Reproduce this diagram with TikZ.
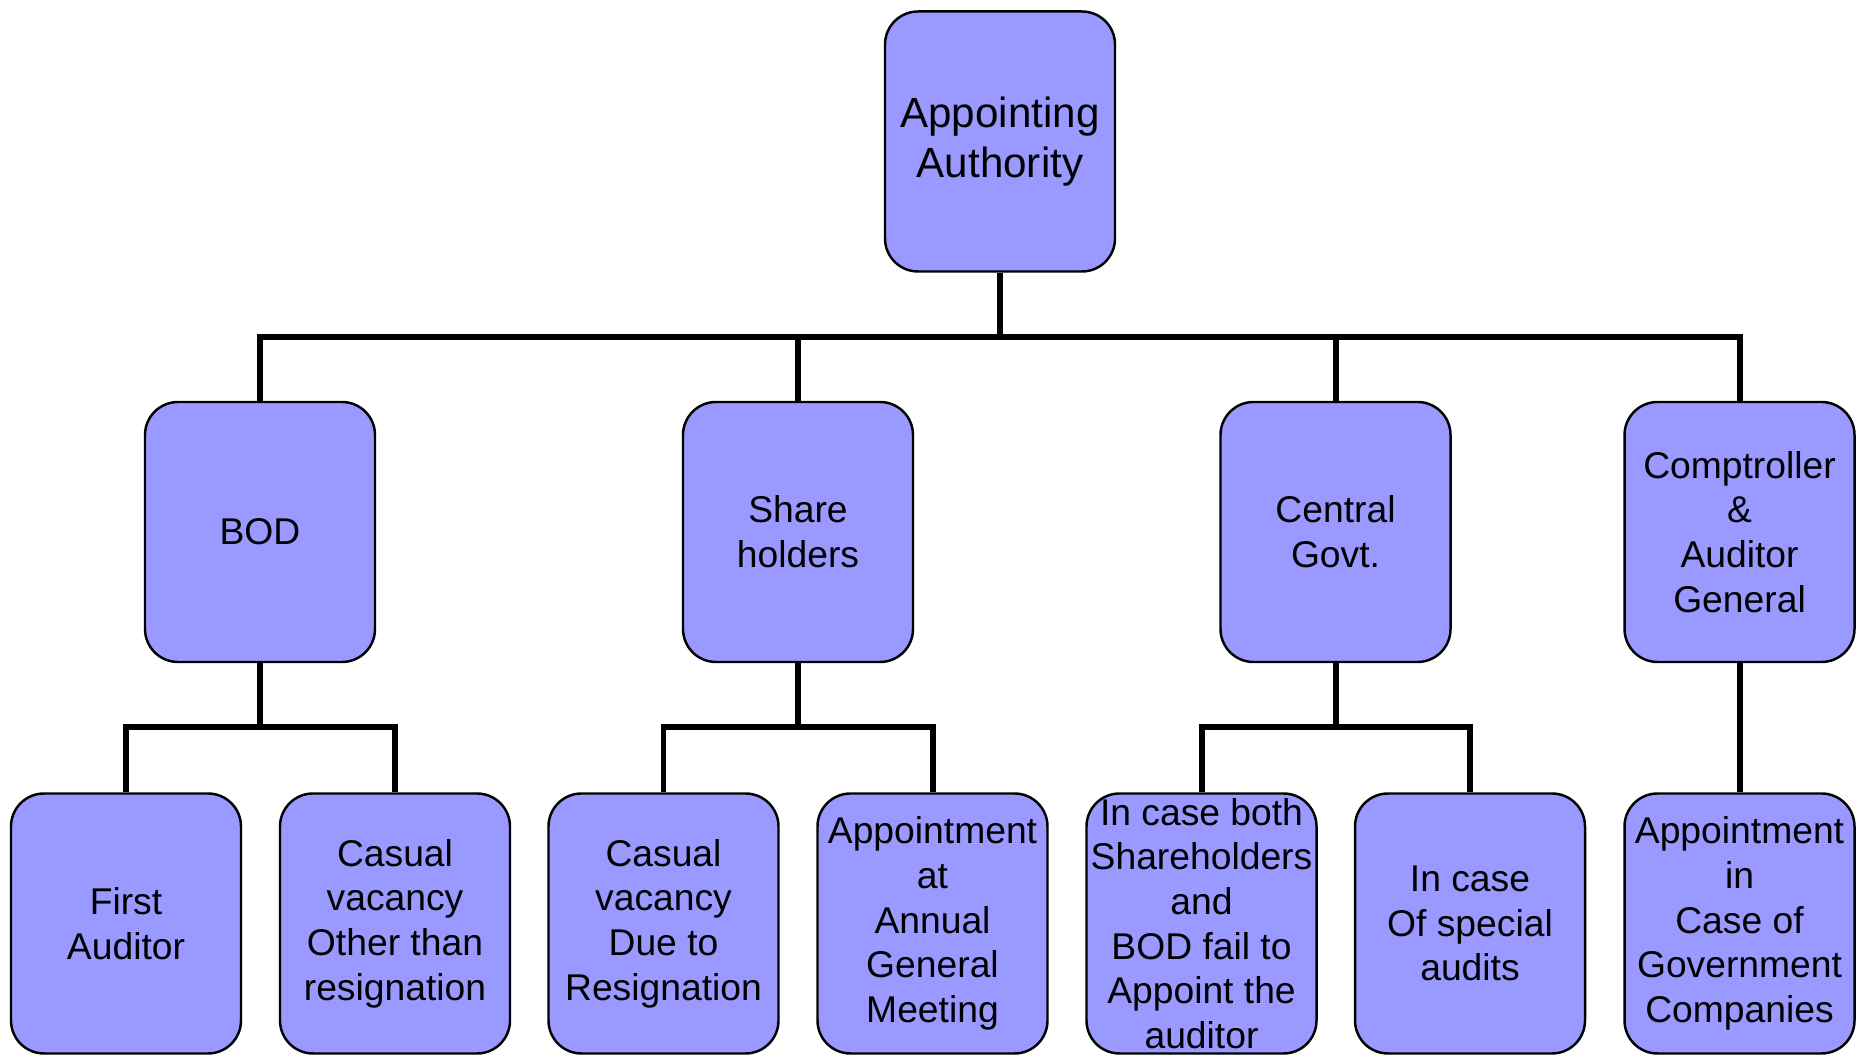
\documentclass[tikz,border=0pt]{standalone}
\usepackage{fontspec}
\setmainfont{Liberation Sans}
\usepackage{tikz}
\definecolor{boxblue}{HTML}{9999FF}
\newcommand{\LineColor}{black}

\begin{document}
\begin{tikzpicture}[line join=miter
  ,box/.style={draw=\LineColor,fill=boxblue,rounded corners=0.33cm,line width=0.7pt
    ,minimum width=2.3cm,minimum height=2.6cm,inner sep=1pt,align=center
    ,font=\fontsize{10.6}{12.7}\selectfont}
  ,conn/.style={draw=\LineColor,line width=1.7pt}]
  \useasboundingbox (0,0) rectangle (18.65,10.6);
  % top
  \node[box,font=\fontsize{12}{14.4}\selectfont] (auth) at (10.00,9.185) {Appointing\\Authority};
  % second row
  \node[box] (bod)   at (2.60,5.28)  {BOD};
  \node[box] (share) at (7.98,5.28)  {Share\\holders};
  \node[box] (govt)  at (13.355,5.28) {Central\\Govt.};
  \node[box] (cag)   at (17.395,5.28) {Comptroller\\\&\\Auditor\\General};
  % third row
  \node[box] (first)   at (1.26,1.365)  {First\\Auditor};
  \node[box] (casoth)  at (3.95,1.365)  {Casual\\vacancy\\Other than\\resignation};
  \node[box] (casres)  at (6.635,1.365) {Casual\\vacancy\\Due to\\Resignation};
  \node[box] (agm)     at (9.325,1.365) {Appointment\\at\\Annual\\General\\Meeting};
  \node[box] (fail)    at (12.015,1.365) {In case both\\Shareholders\\and\\BOD fail to\\Appoint the\\auditor};
  \node[box] (special) at (14.70,1.365) {In case\\Of special\\audits};
  \node[box] (govco)   at (17.395,1.365) {Appointment\\in\\Case of\\Government\\Companies};
  % buses
  \coordinate (busA) at (10.00,7.23);
  \coordinate (busB) at (2.60,3.33);
  \coordinate (busS) at (7.98,3.33);
  \coordinate (busG) at (13.355,3.33);
  \draw[conn] (auth.south) -- (busA) -| (bod.north);
  \draw[conn] (busA) -| (share.north);
  \draw[conn] (busA) -| (govt.north);
  \draw[conn] (busA) -| (cag.north);
  \draw[conn] (bod.south) -- (busB) -| (first.north);
  \draw[conn] (busB) -| (casoth.north);
  \draw[conn] (share.south) -- (busS) -| (casres.north);
  \draw[conn] (busS) -| (agm.north);
  \draw[conn] (govt.south) -- (busG) -| (fail.north);
  \draw[conn] (busG) -| (special.north);
  \draw[conn] (cag.south) -- (govco.north);
\end{tikzpicture}
\end{document}
